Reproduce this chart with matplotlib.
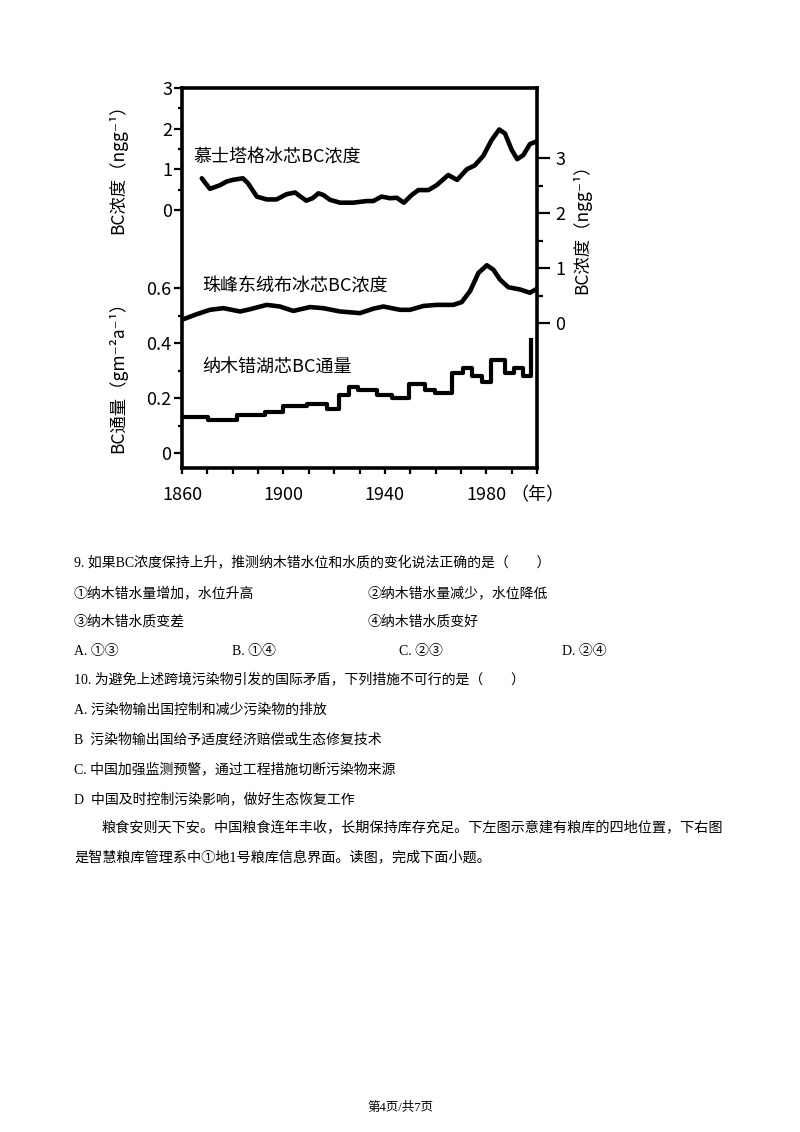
import matplotlib
matplotlib.use("Agg")
import matplotlib.pyplot as plt

plt.rcParams['font.family'] = ['Noto Sans CJK SC', 'DejaVu Sans']

# ---------------- data ----------------
muztagh_years = [1867.8, 1871, 1875, 1877.6, 1880, 1884, 1886, 1889.5, 1893.4, 1897.3,
                 1901.3, 1904.6, 1906.5, 1909, 1911.5, 1913.8, 1915.7, 1918.4, 1922.3,
                 1927.5, 1932.8, 1935.4, 1938.7, 1942, 1944.7, 1947.5, 1950.6, 1953.2,
                 1957.2, 1960.4, 1965, 1968.5, 1972.3, 1975.5, 1978.8, 1982.1, 1985.1,
                 1987.4, 1990, 1992.2, 1994.6, 1997.2, 1999.5]
muztagh_bc = [0.78, 0.52, 0.61, 0.70, 0.74, 0.78, 0.66, 0.33, 0.26, 0.26,
              0.39, 0.43, 0.34, 0.23, 0.29, 0.41, 0.37, 0.25, 0.18,
              0.18, 0.22, 0.22, 0.33, 0.29, 0.30, 0.18, 0.37, 0.49,
              0.49, 0.61, 0.86, 0.74, 1.00, 1.10, 1.33, 1.72, 1.98,
              1.88, 1.48, 1.25, 1.35, 1.62, 1.68]

rongbuk_years = [1860, 1865.8, 1871, 1876.3, 1882.9, 1886.8, 1893.4, 1898.6, 1903.9,
                 1910.5, 1915.7, 1922.3, 1930.2, 1935.4, 1939.4, 1946, 1949.9, 1955.2,
                 1960.4, 1967, 1970.3, 1973.6, 1976.9, 1980.2, 1982.8, 1985.4, 1988.7,
                 1993.3, 1997.2, 1999.5]
rongbuk_bc = [0.06, 0.16, 0.24, 0.27, 0.21, 0.25, 0.33, 0.30, 0.22,
              0.29, 0.27, 0.21, 0.18, 0.26, 0.30, 0.24, 0.24, 0.31,
              0.33, 0.33, 0.38, 0.58, 0.91, 1.05, 0.97, 0.79, 0.65,
              0.61, 0.55, 0.61]

namco_edges = [1860, 1870.4, 1881.6, 1892.7, 1899.7, 1909.2, 1917, 1922, 1926, 1929.5,
               1936.8, 1942.7, 1949.6, 1955.8, 1959.8, 1966.6, 1971, 1974.2, 1978.2,
               1981.7, 1987.4, 1991, 1994.3, 1997.6]
namco_flux = [0.13, 0.12, 0.14, 0.15, 0.17, 0.18, 0.16, 0.21, 0.24, 0.23, 0.21, 0.20,
              0.25, 0.23, 0.22, 0.29, 0.31, 0.28, 0.26, 0.34, 0.29, 0.31, 0.28]
namco_last = 0.41

x_ticks = [1860, 1870, 1880, 1890, 1900, 1910, 1920, 1930, 1940, 1950, 1960, 1970, 1980, 1990, 2000]
x_labels = ['1860', '', '', '', '1900', '', '', '', '1940', '', '', '', '1980', '', '（年）']

left_top_ticks = [0, 1, 2, 3]
left_bot_ticks = [0, 0.2, 0.4, 0.6]
left_bot_labels = ['0', '0.2', '0.4', '0.6']
right_ticks = [0, 1, 2, 3]

# ---------------- figure ----------------
W, H = 800, 1132
fig = plt.figure(figsize=(W / 100, H / 100), dpi=100)


def fx(x):
    return x / W


def fy(y):
    return 1 - y / H


rect = [fx(182), fy(468), (537 - 182) / W, (468 - 88) / H]
LW = 3.3
SP = 2.6

ax1 = fig.add_axes(rect)
ax2 = fig.add_axes(rect, sharex=ax1)
ax3 = fig.add_axes(rect, sharex=ax1)
for a in (ax1, ax2, ax3):
    a.patch.set_visible(False)

ax1.set_xlim(1860, 2000)
ax1.set_ylim(-6.344, 3)
ax3.set_ylim(-0.0545, 1.3273)
ax2.set_ylim(-2.636, 4.273)

# ax1: left (upper), top, bottom spines
for s in ('left', 'top', 'bottom'):
    ax1.spines[s].set_linewidth(SP)
ax1.spines['right'].set_visible(False)
ax1.set_yticks(left_top_ticks)
ax1.set_yticks([0.5, 1.5, 2.5], minor=True)
ax1.tick_params(axis='y', which='major', direction='out', length=6, width=1.6, pad=1, labelsize=13)
ax1.tick_params(axis='y', which='minor', direction='out', length=3, width=1.6)
ax1.set_xticks(x_ticks)
ax1.set_xticklabels(x_labels)
ax1.tick_params(axis='x', which='major', direction='out', length=4, width=1.6, pad=9, labelsize=13)

# ax3: lower left ticks
for s in ax3.spines.values():
    s.set_visible(False)
ax3.set_yticks(left_bot_ticks)
ax3.set_yticklabels(left_bot_labels)
ax3.set_yticks([0.1, 0.3, 0.5], minor=True)
ax3.tick_params(axis='y', which='major', direction='out', length=6, width=1.6, pad=2, labelsize=13)
ax3.tick_params(axis='y', which='minor', direction='out', length=3, width=1.6)
ax3.tick_params(axis='x', which='both', bottom=False, labelbottom=False)

# ax2: right axis
for s in ('left', 'top', 'bottom'):
    ax2.spines[s].set_visible(False)
ax2.spines['right'].set_linewidth(SP)
ax2.yaxis.tick_right()
ax2.set_yticks(right_ticks)
ax2.set_yticks([0.5, 1.5, 2.5], minor=True)
ax2.tick_params(axis='y', which='major', direction='out', length=9, width=1.6, pad=4, labelsize=13)
ax2.tick_params(axis='y', which='minor', direction='out', length=4.5, width=1.6)
ax2.tick_params(axis='x', which='both', bottom=False, labelbottom=False)

# data lines
ax1.plot(muztagh_years, muztagh_bc, color='black', lw=LW, solid_joinstyle='round',
         solid_capstyle='round')
ax2.plot(rongbuk_years, rongbuk_bc, color='black', lw=LW, solid_joinstyle='round',
         solid_capstyle='round')
ax3.step(namco_edges, namco_flux + [namco_last], where='post', color='black', lw=LW - 0.3)

# chart labels
fig.text(fx(193), fy(157), '慕士塔格冰芯BC浓度', fontsize=13, va='center', ha='left')
fig.text(fx(202), fy(286), '珠峰东绒布冰芯BC浓度', fontsize=13, va='center', ha='left')
fig.text(fx(202), fy(367), '纳木错湖芯BC通量', fontsize=13, va='center', ha='left')

fig.text(fx(118), fy(165), 'BC浓度（ngg⁻¹）', fontsize=12.5, rotation=90, va='center', ha='center')
fig.text(fx(118), fy(373), 'BC通量（gm⁻²a⁻¹）', fontsize=12.5, rotation=90, va='center', ha='center')
fig.text(fx(582), fy(225), 'BC浓度（ngg⁻¹）', fontsize=12.5, rotation=90, va='center', ha='center')

# question text
TF = ['Liberation Serif', 'Noto Sans CJK SC', 'DejaVu Sans']
FS = 10


def t(x, y, s, fs=FS):
    fig.text(fx(x), fy(y), s, fontsize=fs, family=TF, va='center', ha='left')


t(74, 563, '9. 如果BC浓度保持上升，推测纳木错水位和水质的变化说法正确的是（　　）')
t(74, 593, '①纳木错水量增加，水位升高')
t(368, 593, '②纳木错水量减少，水位降低')
t(74, 622, '③纳木错水质变差')
t(368, 622, '④纳木错水质变好')
t(74, 651, 'A. ①③')
t(232, 651, 'B. ①④')
t(399, 651, 'C. ②③')
t(562, 651, 'D. ②④')
t(74, 680, '10. 为避免上述跨境污染物引发的国际矛盾，下列措施不可行的是（　　）')
t(74, 710, 'A. 污染物输出国控制和减少污染物的排放')
t(74, 740, 'B  污染物输出国给予适度经济赔偿或生态修复技术')
t(74, 769, 'C. 中国加强监测预警，通过工程措施切断污染物来源')
t(74, 799, 'D  中国及时控制污染影响，做好生态恢复工作')
t(102, 828, '粮食安则天下安。中国粮食连年丰收，长期保持库存充足。下左图示意建有粮库的四地位置，下右图', 10.2)
t(74, 858, '是智慧粮库管理系中①地1号粮库信息界面。读图，完成下面小题。', 10.2)

fig.text(fx(400), fy(1108), '第4页/共7页', fontsize=9, family=TF, va='center', ha='center')

fig.savefig('out.png', dpi=100)
